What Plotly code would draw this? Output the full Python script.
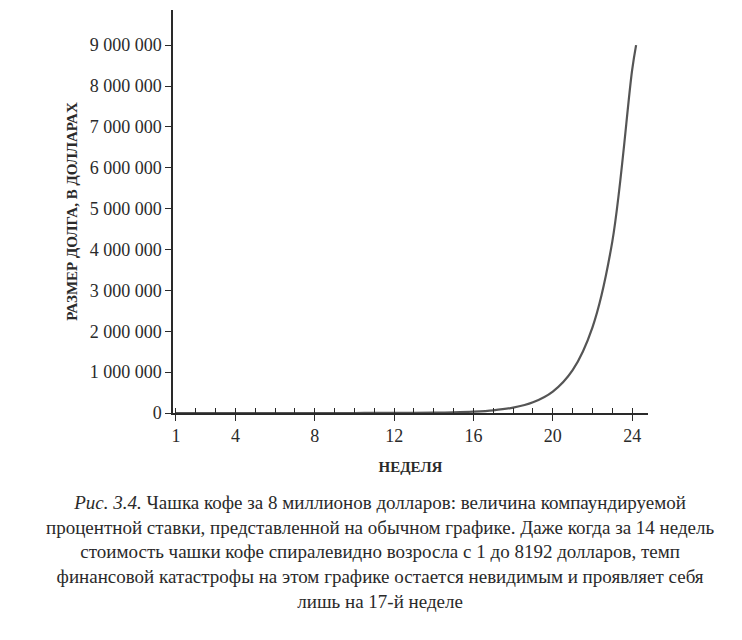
import plotly.graph_objects as go

weeks = list(range(1, 25))
debt = [1, 2, 4, 8, 16, 32, 64, 128, 256, 512, 1024, 2048, 4096, 8192,
        16384, 32768, 65536, 131072, 262144, 524288, 1048576, 2097152,
        4194304, 8388608]
# a little overshoot at the end, as in the drawing
weeks_end = [24.2]
debt_end = [9000000]

x_ticks = [1, 4, 8, 12, 16, 20, 24]
y_ticks = [0, 1000000, 2000000, 3000000, 4000000, 5000000, 6000000, 7000000, 8000000, 9000000]
y_labels = ["0"] + [f"{v:,}".replace(",", " ") for v in y_ticks[1:]]

serif = "Liberation Serif"
ink = "#2a2a2a"

fig = go.Figure()
fig.add_trace(go.Scatter(x=weeks + weeks_end, y=debt + debt_end, mode="lines",
                         line=dict(color="#555", width=2.2, shape="spline"),
                         showlegend=False))

fig.update_xaxes(range=[0.85, 24.8], tickvals=x_ticks, ticks="outside",
                 ticklen=6, tickcolor=ink, showline=True, linecolor=ink,
                 linewidth=1.5, showgrid=False, zeroline=False,
                 minor=dict(dtick=1, tick0=1, ticks="inside", ticklen=5, tickcolor=ink),
                 tickfont=dict(family=serif, size=18, color=ink),
                 title=dict(text="<b>НЕДЕЛЯ</b>", font=dict(family=serif, size=15, color=ink),
                            standoff=16))
fig.update_yaxes(range=[0, 9860000], tickvals=y_ticks, ticktext=y_labels,
                 ticks="outside", ticklen=6, tickcolor=ink, showline=True,
                 linecolor=ink, linewidth=1.5, showgrid=False, zeroline=False,
                 tickfont=dict(family=serif, size=18, color=ink),
                 title=dict(text="<b>РАЗМЕР ДОЛГА, В ДОЛЛАРАХ</b>",
                            font=dict(family=serif, size=15, color=ink), standoff=8))

caption = ("<i>Рис. 3.4.</i> Чашка кофе за 8 миллионов долларов: величина компаундируемой<br>"
           "процентной ставки, представленной на обычном графике. Даже когда за 14 недель<br>"
           "стоимость чашки кофе спиралевидно возросла с 1 до 8192 долларов, темп<br>"
           "финансовой катастрофы на этом графике остается невидимым и проявляет себя<br>"
           "лишь на 17-й неделе")
fig.add_annotation(text=caption, xref="paper", yref="paper", x=0.436, y=-0.19,
                   xanchor="center", yanchor="top", showarrow=False, align="center",
                   font=dict(family=serif, size=19, color=ink))

fig.update_layout(width=742, height=640, plot_bgcolor="white", paper_bgcolor="white",
                  margin=dict(l=165, r=102, t=2, b=235))

fig.write_html("out.html")
